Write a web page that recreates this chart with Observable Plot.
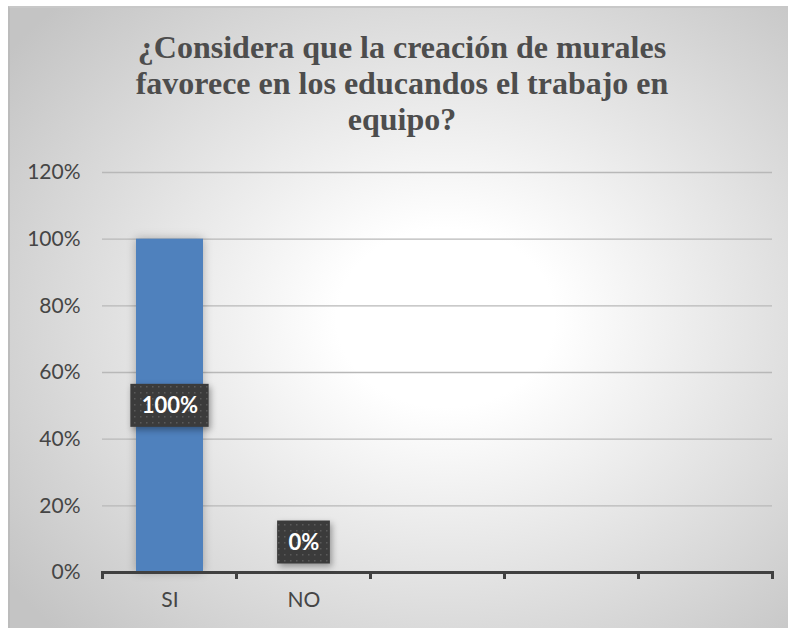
<!DOCTYPE html>
<html><head><meta charset="utf-8">
<script src="https://cdn.jsdelivr.net/npm/d3@7"></script>
<script src="https://cdn.jsdelivr.net/npm/@observablehq/plot@0.6"></script>
<style>
body{margin:0;background:#fff;width:788px;height:628px;overflow:hidden;position:relative;}
#frame{position:absolute;left:8px;top:6px;width:780px;height:622px;box-sizing:border-box;
 background:radial-gradient(ellipse 70% 72% at 56% 50%, #ffffff 0%, #ffffff 20%, #c4c4c4 100%);
 border-top:2px solid #c8c8c8;border-left:2px solid #bcbcbc;}
#title{position:absolute;left:0;top:29px;width:804px;text-align:center;font-family:"Liberation Serif",serif;font-weight:bold;font-size:32px;line-height:36px;color:#4d4d4d;}
#chart{position:absolute;left:0;top:150px;}
</style></head>
<body>
<div id="frame"></div>
<div id="title"></div>
<div id="chart"></div>
<script>
const title = "¿Considera que la creación de murales\nfavorece en los educandos el trabajo en\nequipo?";
const categories = ["SI", "NO", " ", "  ", "   "];
const values = [1, 0, null, null, null];
const labels = ["100%", "0%", null, null, null];
const yTicks = [0, 0.2, 0.4, 0.6, 0.8, 1.0, 1.2];

document.getElementById("title").innerHTML = title.split("\n").map(s => s.replace(/&/g,"&amp;").replace(/</g,"&lt;")).join("<br>");

const data = categories.map((c, i) => ({cat: c, value: values[i], label: labels[i]}));
const barData = data.filter(d => d.value != null);
const labelFont = "bold 22px Lato";

const plot = Plot.plot({
  width: 788, height: 470,
  marginLeft: 102, marginRight: 16, marginTop: 22, marginBottom: 48,
  style: {background: "transparent", fontFamily: "Lato, sans-serif", fontSize: "21px", color: "#454545", overflow: "visible"},
  x: {domain: categories, paddingInner: 0.5, paddingOuter: 0.25, label: null},
  y: {domain: [0, 1.2], label: null},
  marks: [
    Plot.gridY(yTicks.filter(t => t > 0), {stroke: "#b8b8b8", strokeOpacity: 1, strokeWidth: 1.3}),
    Plot.axisY({ticks: yTicks, tickFormat: d3.format(".0%"), tickSize: 0, tickPadding: 22, label: null, fontSize: 21}),
    Plot.axisX({tickSize: 0, tickPadding: 20, label: null, fontSize: 21}),
    Plot.barY(barData, {x: "cat", y: "value", fill: "#4f81bd"}),
    Plot.ruleY([0], {stroke: "#404040", strokeWidth: 3}),
    Plot.text(barData.filter(d => d.value > 0), {x: "cat", y: d => d.value / 2, text: "label", fill: "white", fontWeight: "bold", fontSize: 22, fontFamily: "Lato, sans-serif"}),
    Plot.text(barData.filter(d => d.value === 0), {x: "cat", y: "value", dy: -30, text: "label", fill: "white", fontWeight: "bold", fontSize: 22, fontFamily: "Lato, sans-serif"})
  ]
});
document.getElementById("chart").append(plot);

const svg = d3.select(plot);
const xs = plot.scale("x"), ys = plot.scale("y");
const n = categories.length;
const step = xs.step ?? (xs.range[1] - xs.range[0]) / n;
const bw = xs.bandwidth ?? step * 0.5;
const gap = (step - bw) / 2;
const y0 = ys.apply(0);
const edges = categories.map(c => xs.apply(c) - gap);
edges.push(xs.apply(categories[n - 1]) + bw + gap);

// bar glow
svg.selectAll('g[aria-label="bar"]').style("filter", "drop-shadow(0 0 5px rgba(0,0,0,0.28))");

// tick marks at band boundaries
const tg = svg.append("g");
tg.selectAll("line").data(edges).join("line")
  .attr("x1", d => d).attr("x2", d => d)
  .attr("y1", y0 - 1).attr("y2", y0 + 7)
  .attr("stroke", "#404040").attr("stroke-width", 3);

// dotted pattern for label boxes
const defs = svg.insert("defs", ":first-child");
const pat = defs.append("pattern").attr("id", "dots").attr("width", 6).attr("height", 6).attr("patternUnits", "userSpaceOnUse");
pat.append("rect").attr("width", 6).attr("height", 6).attr("fill", "#3b3b3b");
pat.append("rect").attr("x", 2).attr("y", 2).attr("width", 1.5).attr("height", 1.5).attr("fill", "#5a5a5a");

// label background boxes, positioned with the plot's scales
const ctx = document.createElement("canvas").getContext("2d");
ctx.font = labelFont;
const boxes = barData.map(d => {
  const w = ctx.measureText(d.label).width + 22;
  const cx = xs.apply(d.cat) + bw / 2;
  const cy = d.value > 0 ? ys.apply(d.value / 2) : y0 - 30;
  return {x: cx - w / 2, y: cy - 21.5, w, h: 43};
});
const firstText = svg.select('g[aria-label="text"]').node();
const bg = d3.create("svg:g");
bg.selectAll("rect").data(boxes).join("rect")
  .attr("x", b => b.x).attr("y", b => b.y)
  .attr("width", b => b.w).attr("height", b => b.h)
  .attr("fill", "url(#dots)")
  .style("filter", "drop-shadow(2px 3px 3px rgba(0,0,0,0.35))");
firstText.parentNode.insertBefore(bg.node(), firstText);
</script>
</body></html>
